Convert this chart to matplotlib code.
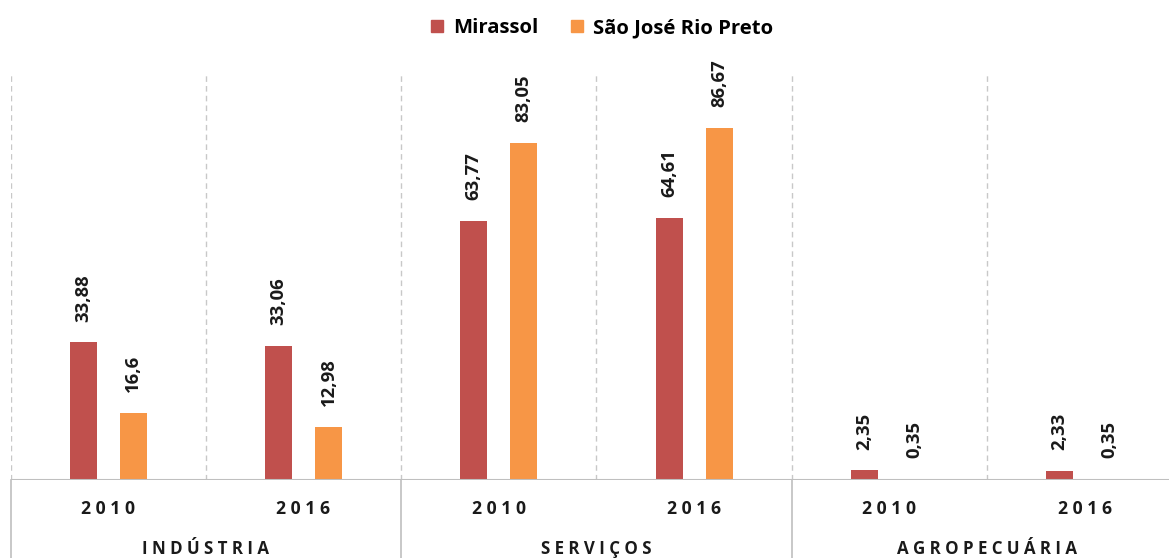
import matplotlib
matplotlib.use("Agg")
import matplotlib.pyplot as plt
from matplotlib.lines import Line2D
import matplotlib.transforms as mtransforms

plt.rcParams['font.family'] = ['Open Sans', 'DejaVu Sans']

# Data
sectors = ["INDÚSTRIA", "SERVIÇOS", "AGROPECUÁRIA"]
years = ["2010", "2016"]
mirassol = [33.88, 33.06, 63.77, 64.61, 2.35, 2.33]
rio_preto = [16.6, 12.98, 83.05, 86.67, 0.35, 0.35]
labels_mirassol = ["33,88", "33,06", "63,77", "64,61", "2,35", "2,33"]
labels_rio_preto = ["16,6", "12,98", "83,05", "86,67", "0,35", "0,35"]
series_names = ["Mirassol", "São José Rio Preto"]

RED = "#C0504D"
ORANGE = "#F79646"
GRID = "#C8C8C8"
AXIS = "#BFBFBF"
TXT = "#1a1a1a"

W, H = 1169, 558
fig = plt.figure(figsize=(W / 100, H / 100), dpi=100)
ax_left, ax_bottom, ax_top = 10.5 / W, (H - 480) / H, (H - 73) / H
ax = fig.add_axes([ax_left, ax_bottom, 6 * 195.3 / W, ax_top - ax_bottom])

n = len(mirassol)
xs = list(range(n))
off, bw = 0.128, 0.138
ax.bar([x - off for x in xs], mirassol, width=bw, color=RED, zorder=3)
ax.bar([x + off for x in xs], rio_preto, width=bw, color=ORANGE, zorder=3)

ax.set_xlim(-0.5, n - 0.5)
ax.set_ylim(0, 100.2)

# Value labels
for x, v, t in zip(xs, mirassol, labels_mirassol):
    ax.annotate(t, (x - off, v), xytext=(0, 15), textcoords="offset points",
                rotation=90, ha="center", va="bottom", fontsize=13.3,
                fontweight="bold", color=TXT)
for x, v, t in zip(xs, rio_preto, labels_rio_preto):
    ax.annotate(t, (x + off, v), xytext=(0, 15), textcoords="offset points",
                rotation=90, ha="center", va="bottom", fontsize=13.3,
                fontweight="bold", color=TXT)

# Dashed separators between years and the bottom axis line
for b in [i - 0.5 for i in range(n + 1)]:
    ax.axvline(b, color=GRID, lw=1, ls=(0, (4, 3)), zorder=1)
ax.axhline(0, color=AXIS, lw=1.5, zorder=4)

for s in ax.spines.values():
    s.set_visible(False)
ax.set_xticks([])
ax.set_yticks([])

# Group separators below the axis
trans = mtransforms.blended_transform_factory(ax.transData, ax.transAxes)
for b in [-0.5, 1.5, 3.5, 5.5]:
    ax.add_line(Line2D([b, b], [0, -0.3], transform=trans, color=AXIS,
                       lw=1.2, clip_on=False))

for x in xs:
    ax.text(x, -0.072, " ".join(years[x % 2]), transform=trans, ha="center",
            va="center", fontsize=12.7, fontweight="bold", color=TXT)
for g, name in enumerate(sectors):
    ax.text(2 * g + 0.5, -0.17, " ".join(name), transform=trans, ha="center",
            va="center", fontsize=12.2, fontweight="bold", color=TXT)

handles = [Line2D([], [], marker="s", ls="none", color=RED, markersize=9),
           Line2D([], [], marker="s", ls="none", color=ORANGE, markersize=9)]
fig.legend(handles, series_names, loc="center", bbox_to_anchor=(601 / W, 1 - 28 / H),
           ncol=2, frameon=False, handlelength=0.8, handletextpad=0.4,
           columnspacing=1.5, prop={"size": 14.6, "weight": "bold"})

fig.savefig("out.png", dpi=100)
